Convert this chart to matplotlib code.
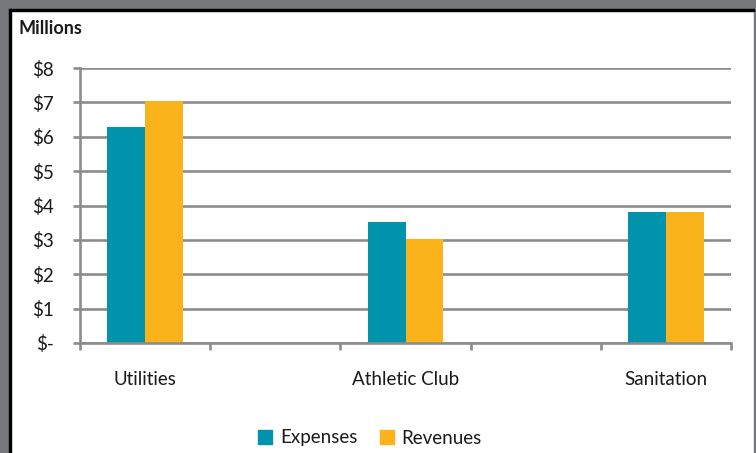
import matplotlib
matplotlib.use("Agg")
import matplotlib.pyplot as plt
from matplotlib.patches import Rectangle, Patch

# data (millions of dollars); blank slots keep Excel's spacing
categories = ["Utilities", "", "Athletic Club", "", "Sanitation"]
expenses = [6.27, None, 3.53, None, 3.80]
revenues = [7.04, None, 3.02, None, 3.80]
y_ticks = [0, 1, 2, 3, 4, 5, 6, 7, 8]
y_labels = ["$-", "$1", "$2", "$3", "$4", "$5", "$6", "$7", "$8"]

TEAL = "#0093AB"
GOLD = "#FAB31A"
GRID = "#8C8C8C"
TEXT = "#1A1A1A"
FS = 13.5

plt.rcParams["font.family"] = ["Lato", "DejaVu Sans"]

W, H = 756, 453
fig = plt.figure(figsize=(W / 100, H / 100), dpi=100)


def px(x0, y0, x1, y1):
    return (x0 / W, 1 - y1 / H, (x1 - x0) / W, (y1 - y0) / H)


# frame: gray outside, black inner line
for (x0, y0, x1, y1, c) in [
    (0, 0, W, 9, "#77787B"),
    (0, 0, 9, H, "#77787B"),
    (754, 0, W, H, "#77787B"),
    (9, 9, 754, 11, "#000000"),
    (9, 9, 11, H, "#000000"),
]:
    l, b, w, h = px(x0, y0, x1, y1)
    fig.patches.append(Rectangle((l, b), w, h, transform=fig.transFigure,
                                 color=c, zorder=0))

ax = fig.add_axes(px(80, 68, 731, 343))
ax.set_facecolor("none")

bw = 0.29
xs = [i for i, v in enumerate(expenses) if v is not None]
ax.bar([i - bw / 2 for i in xs], [expenses[i] for i in xs], bw,
       color=TEAL, zorder=3)
ax.bar([i + bw / 2 for i in xs], [revenues[i] for i in xs], bw,
       color=GOLD, zorder=3)

ax.set_xlim(-0.5, len(categories) - 0.5)
ax.set_ylim(0, 8)
ax.set_yticks(y_ticks)
ax.set_yticklabels(y_labels, fontsize=FS, color=TEXT)
ax.yaxis.grid(True, color=GRID, linewidth=1.9, zorder=1)

ax.set_xticks([i - 0.5 for i in range(len(categories) + 1)])
ax.set_xticklabels([])
ax.set_xticks(range(len(categories)), minor=True)
ax.set_xticklabels(categories, minor=True, fontsize=FS, color=TEXT)
ax.tick_params(axis="x", which="minor", length=0, pad=20)
ax.tick_params(axis="x", which="major", length=5, width=1.9, color=GRID)
ax.tick_params(axis="y", length=5, width=1.9, color=GRID, pad=14)

for s in ["top", "right"]:
    ax.spines[s].set_visible(False)
for s in ["left", "bottom"]:
    ax.spines[s].set_color(GRID)
    ax.spines[s].set_linewidth(1.9)
    ax.spines[s].set_zorder(4)

fig.text(19 / W, 1 - 28 / H, "Millions", fontsize=13, fontweight="bold",
         color=TEXT, va="center", ha="left")

handles = [Patch(color=TEAL, label="Expenses"), Patch(color=GOLD, label="Revenues")]
fig.legend(handles=handles, loc="center", bbox_to_anchor=(370 / W, 1 - 438 / H),
           ncol=2, frameon=False, fontsize=FS, handlelength=0.75, handleheight=0.75,
           handletextpad=0.4, columnspacing=1.2, labelcolor=TEXT)

fig.savefig("out.png", dpi=100)
